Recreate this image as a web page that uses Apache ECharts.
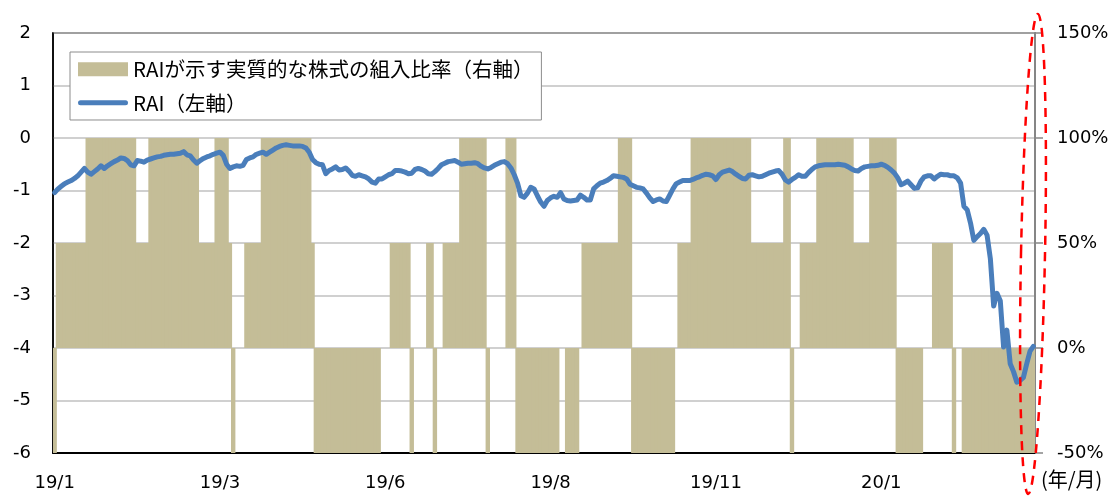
<!DOCTYPE html>
<html>
    <head>
        <meta charset="utf-8">
        <title>RAI</title>
        <script src="https://cdn.jsdelivr.net/npm/echarts@6/dist/echarts.min.js"></script>
        <style>
            html, body { margin: 0; padding: 0; background: #fff; }
        </style>
    </head>
    <body>
        <div id="main" style="width:1117px;height:498px;"></div>
        <script type="text/javascript">
            // x軸の目盛ラベル（50営業日ごと）
            var tickLabels = ['19/1', '19/3', '19/6', '19/8', '19/11', '20/1'];
            var tickStep = 50;

            // RAI（左軸）日次
            var raiValues = [
                -1.04,-0.97,-0.92,-0.87,-0.84,-0.81,-0.77,-0.72,-0.65,-0.58,
                -0.65,-0.69,-0.64,-0.59,-0.53,-0.58,-0.53,-0.49,-0.45,-0.42,
                -0.38,-0.39,-0.43,-0.51,-0.53,-0.43,-0.44,-0.46,-0.42,-0.40,
                -0.38,-0.36,-0.35,-0.33,-0.32,-0.31,-0.31,-0.30,-0.29,-0.26,
                -0.32,-0.34,-0.42,-0.48,-0.43,-0.39,-0.36,-0.34,-0.31,-0.29,
                -0.27,-0.33,-0.50,-0.58,-0.55,-0.53,-0.54,-0.52,-0.41,-0.38,
                -0.36,-0.31,-0.29,-0.27,-0.31,-0.27,-0.23,-0.19,-0.16,-0.14,
                -0.13,-0.14,-0.15,-0.15,-0.15,-0.16,-0.19,-0.27,-0.41,-0.47,
                -0.50,-0.51,-0.68,-0.62,-0.59,-0.55,-0.61,-0.60,-0.57,-0.63,
                -0.71,-0.73,-0.70,-0.72,-0.74,-0.78,-0.84,-0.86,-0.78,-0.78,
                -0.74,-0.70,-0.68,-0.62,-0.62,-0.63,-0.65,-0.68,-0.67,-0.60,
                -0.58,-0.60,-0.63,-0.68,-0.69,-0.64,-0.58,-0.51,-0.48,-0.45,
                -0.44,-0.43,-0.46,-0.50,-0.49,-0.48,-0.48,-0.47,-0.49,-0.54,
                -0.57,-0.59,-0.56,-0.52,-0.49,-0.46,-0.45,-0.49,-0.57,-0.70,
                -0.86,-1.10,-1.13,-1.05,-0.94,-0.97,-1.10,-1.22,-1.30,-1.19,
                -1.14,-1.11,-1.13,-1.04,-1.16,-1.19,-1.20,-1.19,-1.18,-1.09,
                -1.13,-1.18,-1.18,-0.97,-0.91,-0.86,-0.84,-0.81,-0.77,-0.72,
                -0.73,-0.74,-0.75,-0.78,-0.88,-0.91,-0.94,-0.95,-0.97,-1.05,
                -1.14,-1.21,-1.18,-1.16,-1.20,-1.21,-1.09,-0.97,-0.87,-0.84,
                -0.81,-0.81,-0.81,-0.79,-0.76,-0.74,-0.71,-0.69,-0.70,-0.72,
                -0.79,-0.70,-0.65,-0.63,-0.61,-0.64,-0.69,-0.73,-0.77,-0.78,
                -0.71,-0.70,-0.72,-0.74,-0.73,-0.70,-0.67,-0.65,-0.63,-0.62,
                -0.69,-0.80,-0.84,-0.79,-0.75,-0.70,-0.73,-0.73,-0.66,-0.60,
                -0.55,-0.53,-0.52,-0.51,-0.51,-0.51,-0.51,-0.50,-0.51,-0.52,
                -0.55,-0.59,-0.62,-0.63,-0.58,-0.55,-0.54,-0.53,-0.53,-0.52,
                -0.50,-0.52,-0.56,-0.61,-0.67,-0.76,-0.89,-0.86,-0.82,-0.89,
                -0.96,-0.95,-0.82,-0.74,-0.72,-0.72,-0.78,-0.73,-0.69,-0.70,
                -0.70,-0.72,-0.72,-0.76,-0.86,-1.30,-1.37,-1.62,-1.95,-1.88,
                -1.82,-1.74,-1.85,-2.30,-3.20,-2.96,-3.10,-3.98,-3.66,-4.30,
                -4.45,-4.65,-4.62,-4.56,-4.30,-4.06,-3.97
            ];

            // 実質的な株式の組入比率（右軸, %）: [値, 日数]
            var ratioRuns = [
                [-50,1],[50,9],[100,15],[50,4],[100,15],[50,5],[100,4],[50,1],[-50,1],[0,3],
                [50,5],[100,15],[50,1],[-50,20],[0,3],[50,6],[-50,1],[0,4],[50,2],[-50,1],
                [0,2],[50,5],[100,8],[-50,1],[0,5],[100,3],[-50,13],[0,2],[-50,4],[0,1],
                [50,11],[100,4],[-50,13],[0,1],[50,4],[100,18],[50,10],[100,2],[-50,1],[0,2],
                [50,5],[100,11],[50,5],[100,8],[-50,8],[0,3],[50,6],[-50,1],[0,2],[-50,22]
            ];

            var ratioValues = [];
            ratioRuns.forEach(function (r) {
                for (var k = 0; k < r[1]; k++) ratioValues.push(r[0]);
            });
            var days = raiValues.map(function (v, i) { return String(i); });

            var numFont = 'DejaVu Sans';
            var jpFont = 'Noto Sans CJK JP';
            var barColor = '#c4bd97';
            var lineColor = '#4a7ebb';

            var myChart = echarts.init(document.getElementById('main'));
            var option = {
                animation: false,
                grid: {
                    left: 53, right: 82, top: 33, bottom: 45,
                    show: true, borderColor: '#000', borderWidth: 1.5
                },
                legend: {
                    orient: 'vertical',
                    left: 70, top: 52,
                    backgroundColor: '#fff',
                    borderColor: '#8c8c8c', borderWidth: 1,
                    padding: [7, 8, 7, 8],
                    itemWidth: 50, itemHeight: 14, itemGap: 13,
                    textStyle: { fontFamily: jpFont, fontSize: 20.5, color: '#000' },
                    data: [
                        { name: 'RAIが示す実質的な株式の組入比率（右軸）', icon: 'rect' },
                        { name: 'RAI（左軸）', icon: 'path://M2.5,0 L47.5,0 A2.5,2.5 0 0 1 47.5,5 L2.5,5 A2.5,2.5 0 0 1 2.5,0 Z' }
                    ]
                },
                xAxis: {
                    type: 'category',
                    data: days,
                    boundaryGap: true,
                    axisLine: { onZero: false, lineStyle: { color: '#000', width: 2 } },
                    axisTick: { show: false },
                    axisLabel: {
                        interval: tickStep - 1,
                        margin: 21,
                        fontFamily: numFont, fontSize: 18, color: '#000',
                        formatter: function (v, idx) { return tickLabels[Math.round(idx / tickStep)] || ''; }
                    },
                    splitLine: { show: false }
                },
                yAxis: [{
                    type: 'value',
                    min: -6, max: 2, interval: 1,
                    axisLine: { show: true, onZero: false, lineStyle: { color: '#000', width: 1.5 } },
                    axisTick: { show: false },
                    axisLabel: { margin: 22, fontFamily: numFont, fontSize: 18, color: '#000' },
                    splitLine: { lineStyle: { color: '#c0c0c0', width: 1.5 } }
                }, {
                    type: 'value',
                    min: -50, max: 150, interval: 50,
                    position: 'right',
                    axisLine: { show: true, onZero: false, lineStyle: { color: '#868686', width: 2 } },
                    axisTick: { show: true, length: 8, lineStyle: { color: '#868686', width: 1.5 } },
                    axisLabel: { margin: 22, fontFamily: numFont, fontSize: 18, color: '#000', formatter: '{value}%' },
                    splitLine: { show: false }
                }],
                series: [{
                    name: 'RAIが示す実質的な株式の組入比率（右軸）',
                    type: 'bar',
                    yAxisIndex: 1,
                    data: ratioValues,
                    barWidth: 4.4,
                    barGap: '-100%',
                    itemStyle: { color: barColor }
                }, {
                    name: 'RAI（左軸）',
                    type: 'line',
                    yAxisIndex: 0,
                    data: raiValues,
                    symbol: 'none',
                    smooth: false,
                    lineStyle: { color: lineColor, width: 5, cap: 'round', join: 'round' },
                    itemStyle: { color: lineColor },
                    z: 5
                }],
                graphic: [{
                    type: 'text',
                    left: 1041, top: 469,
                    style: { text: '(年/月)', font: '20px "Noto Sans CJK JP"', fill: '#000' }
                }, {
                    type: 'ellipse',
                    x: 1033, y: 254,
                    rotation: -0.02,
                    shape: { cx: 0, cy: 0, rx: 12, ry: 240 },
                    style: { fill: 'none', stroke: '#ff0000', lineWidth: 2.5, lineDash: [9, 7] },
                    z: 100
                }]
            };
            myChart.setOption(option);
        </script>
    </body>
</html>
